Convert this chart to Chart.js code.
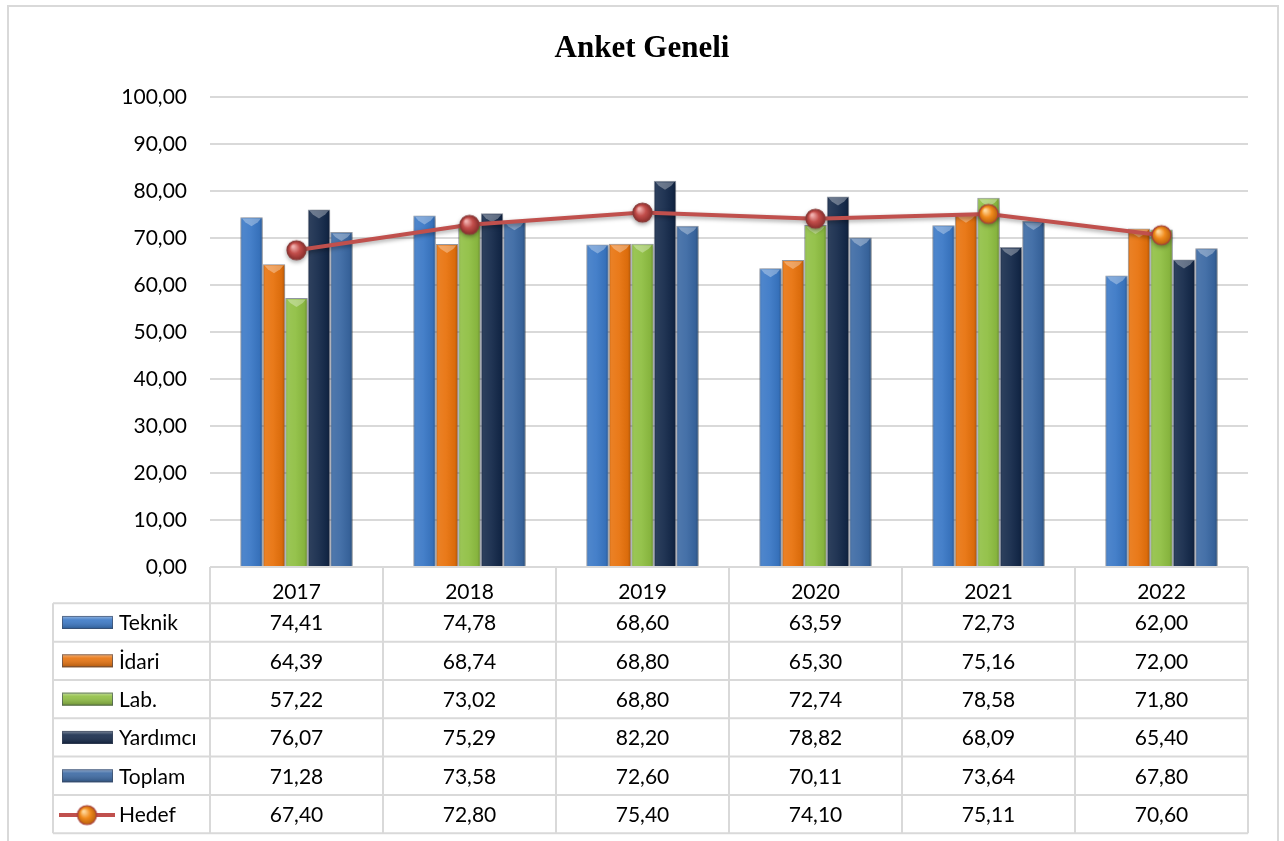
<!DOCTYPE html>
<html><head><meta charset="utf-8">
<script src="https://cdn.jsdelivr.net/npm/chart.js@4"></script>
<style>html,body{margin:0;padding:0;background:#fff}canvas{display:block}</style>
</head><body>
<canvas id="c" width="1284" height="841"></canvas>
<script>
const chartTitle = 'Anket Geneli';
const years = ['2017', '2018', '2019', '2020', '2021', '2022'];
const teknik = [74.41, 74.78, 68.60, 63.59, 72.73, 62.00];
const idari = [64.39, 68.74, 68.80, 65.30, 75.16, 72.00];
const lab = [57.22, 73.02, 68.80, 72.74, 78.58, 71.80];
const yardimci = [76.07, 75.29, 82.20, 78.82, 68.09, 65.40];
const toplam = [71.28, 73.58, 72.60, 70.11, 73.64, 67.80];
const hedef = [67.40, 72.80, 75.40, 74.10, 75.11, 70.60];
const seriesNames = ['Teknik', 'İdari', 'Lab.', 'Yardımcı', 'Toplam', 'Hedef'];
const yMin = 0, yMax = 100, yStep = 10;

const barColors = ['#3a78c6', '#e8720c', '#8fbf42', '#14294a', '#3a68a3'];
const lineColor = '#c0504d';
const FONT = 'Lato, "Open Sans", sans-serif';
const fmt = v => v.toFixed(2).replace('.', ',');

function sphere(r, hi, mid, edge, outline) {
  const s = r * 2 + 4;
  const cv = document.createElement('canvas');
  cv.width = s; cv.height = s;
  const g = cv.getContext('2d');
  const c = s / 2;
  const grad = g.createRadialGradient(c - r * 0.35, c - r * 0.4, r * 0.1, c, c, r);
  grad.addColorStop(0, hi);
  grad.addColorStop(0.5, mid);
  grad.addColorStop(1, edge);
  g.beginPath(); g.arc(c, c, r, 0, Math.PI * 2);
  g.fillStyle = grad; g.fill();
  g.lineWidth = 1.2; g.strokeStyle = outline; g.stroke();
  return cv;
}
const redBall = sphere(9.5, '#f0b0ae', '#c24e4b', '#8a2e2c', '#8a3a38');
const orangeBall = sphere(9.5, '#ffd79a', '#f08a1c', '#b8600c', '#a8403c');
const pointStyles = [redBall, redBall, redBall, redBall, orangeBall, orangeBall];

const seriesData = [teknik, idari, lab, yardimci, toplam];
const datasets = seriesData.map((d, i) => ({
  type: 'bar', label: seriesNames[i], data: d,
  backgroundColor: barColors[i], borderColor: 'rgba(70,80,100,0.55)', borderWidth: 1,
  barPercentage: 1.0, categoryPercentage: 0.65, order: 1
}));
datasets.push({
  type: 'line', label: seriesNames[5], data: hedef,
  borderColor: lineColor, borderWidth: 4, tension: 0,
  pointStyle: pointStyles, pointRadius: 10, order: 0
});

const decorPlugin = {
  id: 'decor',
  beforeDraw(chart) {
    const ctx = chart.ctx;
    ctx.save();
    ctx.fillStyle = '#fff'; ctx.fillRect(0, 0, chart.width, chart.height);
    ctx.strokeStyle = '#d9d9d9'; ctx.lineWidth = 2;
    ctx.beginPath();
    ctx.moveTo(8, chart.height + 2); ctx.lineTo(8, 6); ctx.lineTo(1278, 6); ctx.lineTo(1278, chart.height + 2);
    ctx.stroke();
    ctx.fillStyle = '#000';
    ctx.font = 'bold 31px "Liberation Serif", "Times New Roman", serif';
    ctx.textAlign = 'center'; ctx.textBaseline = 'alphabetic';
    ctx.fillText(chartTitle, 642, 57);
    ctx.restore();
  },
  beforeDatasetDraw(chart, args) {
    const ctx = chart.ctx;
    ctx.save();
    if (chart.data.datasets[args.index].type === 'line') {
      ctx.shadowColor = 'rgba(0,0,0,0.35)'; ctx.shadowBlur = 4; ctx.shadowOffsetY = 2;
    } else {
      ctx.shadowColor = 'rgba(0,0,0,0.25)'; ctx.shadowBlur = 3; ctx.shadowOffsetX = 1; ctx.shadowOffsetY = 1;
    }
  },
  afterDatasetDraw(chart, args) {
    const ctx = chart.ctx;
    ctx.restore();
    if (chart.data.datasets[args.index].type !== 'bar') return;
    ctx.save();
    args.meta.data.forEach(el => {
      const w = el.width, l = el.x - w / 2, r = el.x + w / 2, t = el.y, b = el.base;
      const g = ctx.createLinearGradient(l, 0, r, 0);
      g.addColorStop(0, 'rgba(0,0,0,0.18)');
      g.addColorStop(0.12, 'rgba(255,255,255,0.10)');
      g.addColorStop(0.45, 'rgba(255,255,255,0.06)');
      g.addColorStop(0.85, 'rgba(0,0,0,0.06)');
      g.addColorStop(1, 'rgba(0,0,0,0.28)');
      ctx.fillStyle = g;
      ctx.fillRect(l + 1, t + 1, w - 2, b - t - 1);
      ctx.beginPath();
      ctx.moveTo(l + 2, t + 1.5); ctx.lineTo(r - 2, t + 1.5); ctx.lineTo(r - 5, t + 5); ctx.lineTo(el.x, t + 9); ctx.lineTo(l + 5, t + 5);
      ctx.closePath();
      ctx.fillStyle = 'rgba(255,255,255,0.32)';
      ctx.fill();
    });
    ctx.restore();
  },
  afterDraw(chart) {
    const ctx = chart.ctx, xs = chart.scales.x, ca = chart.chartArea;
    const n = years.length;
    const bounds = [];
    for (let i = 0; i <= n; i++) {
      if (i === 0) bounds.push(ca.left);
      else if (i === n) bounds.push(ca.right);
      else bounds.push((xs.getPixelForValue(i - 1) + xs.getPixelForValue(i)) / 2);
    }
    const top = ca.bottom, headH = 36.3, rowH = 38.33, legL = 53;
    const rowsTop = top + headH, bottom = rowsTop + rowH * 6;
    ctx.save();
    ctx.strokeStyle = '#d9d9d9'; ctx.lineWidth = 2;
    const ln = (x1, y1, x2, y2) => { ctx.beginPath(); ctx.moveTo(x1, y1); ctx.lineTo(x2, y2); ctx.stroke(); };
    ln(ca.left, top, ca.right, top);
    for (let i = 0; i <= 6; i++) ln(legL, rowsTop + i * rowH, ca.right, rowsTop + i * rowH);
    bounds.forEach(b => ln(b, top, b, bottom));
    ln(legL, rowsTop, legL, bottom);

    ctx.fillStyle = '#000';
    ctx.font = '21px ' + FONT;
    ctx.textBaseline = 'middle';
    chart.data.datasets.forEach((ds, r) => {
      const cy = rowsTop + r * rowH + rowH / 2 + 1;
      ctx.textAlign = 'center'; ctx.fillStyle = '#000';
      ds.data.forEach((v, c) => ctx.fillText(fmt(v), xs.getPixelForValue(c), cy));
      ctx.textAlign = 'left';
      ctx.fillText(ds.label, 119, cy);
      if (ds.type === 'bar') {
        const ix = 62, iw = 51, ih = 13, iy = cy - ih / 2 - 1;
        ctx.fillStyle = ds.backgroundColor;
        ctx.fillRect(ix, iy, iw, ih);
        const g = ctx.createLinearGradient(0, iy, 0, iy + ih);
        g.addColorStop(0, 'rgba(255,255,255,0.45)');
        g.addColorStop(0.3, 'rgba(255,255,255,0.1)');
        g.addColorStop(1, 'rgba(0,0,0,0.25)');
        ctx.fillStyle = g; ctx.fillRect(ix, iy, iw, ih);
        ctx.strokeStyle = 'rgba(60,70,90,0.6)'; ctx.lineWidth = 1;
        ctx.strokeRect(ix + 0.5, iy + 0.5, iw - 1, ih - 1);
      } else {
        ctx.strokeStyle = ds.borderColor; ctx.lineWidth = 4;
        ln(59, cy, 115, cy);
        ctx.drawImage(orangeBall, 87 - orangeBall.width / 2, cy - orangeBall.height / 2);
      }
      ctx.strokeStyle = '#d9d9d9'; ctx.lineWidth = 2;
    });
    ctx.restore();
  }
};

new Chart(document.getElementById('c'), {
  data: { labels: years, datasets },
  options: {
    responsive: false, animation: false, devicePixelRatio: 1,
    layout: { padding: { top: 97, left: 0, right: 36, bottom: 0 } },
    plugins: { legend: { display: false }, title: { display: false }, tooltip: { enabled: false } },
    scales: {
      x: {
        grid: { display: false }, border: { display: false },
        ticks: { color: '#000', font: { family: FONT, size: 21 }, padding: 5 },
        afterFit: s => { s.height = 274; }
      },
      y: {
        min: yMin, max: yMax,
        grid: { color: '#d9d9d9', lineWidth: 2, drawTicks: false }, border: { display: false },
        ticks: { stepSize: yStep, color: '#000', font: { family: FONT, size: 21 }, padding: 23, callback: v => fmt(v) },
        afterFit: s => { s.width = 210; }
      }
    }
  },
  plugins: [decorPlugin]
});
</script>
</body></html>
